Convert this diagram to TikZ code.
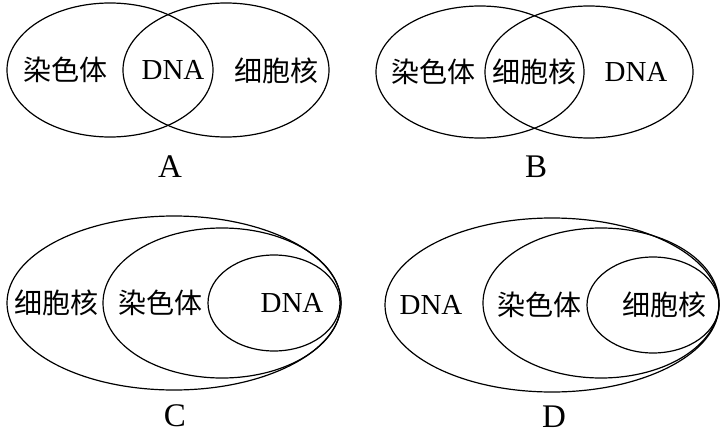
\documentclass[tikz,border=0pt]{standalone}
\usepackage{fontspec}
\setmainfont{Liberation Serif}
\newfontfamily\cjk{Noto Sans CJK SC}
\usepackage{tikz}
\usetikzlibrary{shapes.geometric}

\begin{document}
\begin{tikzpicture}[
    x=1pt, y=1pt,
    venn/.style={ellipse, draw, line width=1.2pt, inner sep=0pt},
    zh/.style={font=\cjk\fontsize{28}{30}\selectfont, inner sep=0pt},
    en/.style={font=\fontsize{29}{31}\selectfont, inner sep=0pt},
    tag/.style={font=\fontsize{33}{35}\selectfont, inner sep=0pt},
]
\useasboundingbox (0,0) rectangle (722,437);

% A: two overlapping sets
\node[venn, minimum width=206pt, minimum height=134pt] (chromA) at (110,367) {};
\node[venn, minimum width=206pt, minimum height=134pt] (nucA) at (226,367) {};
\node[zh] (chromlabA) at (65,367) {染色体};
\node[en] (dnalabA) at (173,367) {DNA};
\node[zh] (nuclabA) at (276,366) {细胞核};
\node[tag] (capA) at (170,270) {A};

% B: two overlapping sets
\node[venn, minimum width=208pt, minimum height=132pt] (chromB) at (480,365) {};
\node[venn, minimum width=208pt, minimum height=132pt] (dnaB) at (589,365) {};
\node[zh] (chromlabB) at (433,365) {染色体};
\node[zh] (nuclabB) at (534,365) {细胞核};
\node[en] (dnalabB) at (636,365) {DNA};
\node[tag] (capB) at (536,270) {B};

% C: nested sets
\node[venn, minimum width=334pt, minimum height=174pt] (nucC) at (174,134) {};
\node[venn, minimum width=238pt, minimum height=150pt] (chromC) at (222,134) {};
\node[venn, minimum width=132pt, minimum height=96pt] (dnaC) at (274,134) {};
\node[zh] (nuclabC) at (56,134) {细胞核};
\node[zh] (chromlabC) at (160,134) {染色体};
\node[en] (dnalabC) at (292,134) {DNA};
\node[tag] (capC) at (175,21) {C};

% D: nested sets
\node[venn, minimum width=334pt, minimum height=174pt] (dnaD) at (552,132) {};
\node[venn, minimum width=236pt, minimum height=150pt] (chromD) at (601,134) {};
\node[venn, minimum width=132pt, minimum height=96pt] (nucD) at (653,132) {};
\node[en] (dnalabD) at (431,132) {DNA};
\node[zh] (chromlabD) at (539,132) {染色体};
\node[zh] (nuclabD) at (664,132) {细胞核};
\node[tag] (capD) at (554,20) {D};

\end{tikzpicture}
\end{document}
